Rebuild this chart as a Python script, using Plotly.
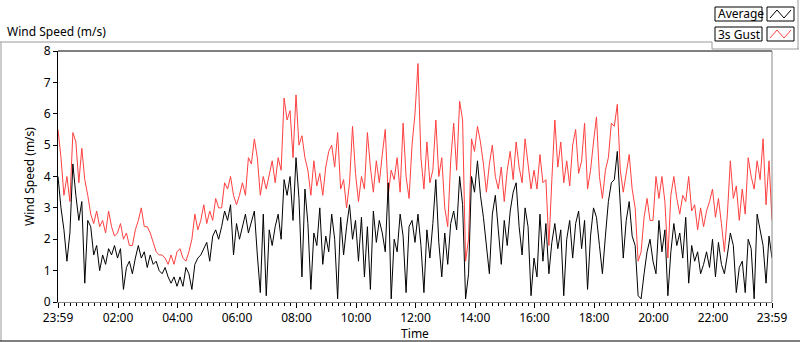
import plotly.graph_objects as go

# ---- data (6-minute samples) ----
step_hours = 0.1
gust = [5.5, 4.6, 3.4, 4.0, 3.2, 5.4, 5.1, 3.8, 4.9, 3.9, 3.4, 2.8, 2.5, 2.9, 2.4, 2.6, 2.2, 2.9, 2.4, 2.1,
        2.2, 2.5, 2.0, 2.2, 1.8, 1.8, 2.3, 2.6, 3.0, 2.4, 2.4, 2.2, 1.9, 1.6, 1.5, 1.5, 1.4, 1.2, 1.5, 1.2,
        1.6, 1.7, 1.4, 1.3, 1.6, 2.0, 2.8, 2.3, 2.6, 3.1, 2.5, 2.9, 2.6, 3.3, 3.0, 3.0, 3.8, 3.6, 4.0, 3.4,
        3.1, 3.4, 3.8, 3.4, 4.6, 4.4, 5.2, 4.6, 3.4, 4.0, 3.6, 4.1, 4.5, 3.8, 4.6, 4.2, 6.5, 5.8, 6.1, 4.6,
        6.6, 5.0, 5.3, 4.6, 4.2, 3.4, 4.5, 3.7, 4.1, 3.4, 4.3, 4.8, 5.0, 4.3, 5.4, 3.6, 3.9, 3.0, 3.8, 5.6,
        4.1, 3.2, 4.0, 3.6, 5.4, 4.3, 3.5, 4.5, 3.8, 4.7, 5.5, 3.4, 4.2, 3.9, 4.6, 3.5, 5.7, 4.0, 3.3, 5.0,
        6.0, 7.6, 4.6, 3.6, 5.1, 3.8, 4.2, 5.8, 4.0, 4.6, 3.0, 2.4, 4.5, 5.7, 4.2, 6.4, 5.8, 1.3, 2.0, 5.2,
        4.8, 5.6, 5.1, 4.4, 3.5, 4.4, 5.0, 4.0, 3.6, 4.3, 3.2, 4.2, 4.8, 3.9, 5.1, 4.3, 3.8, 5.2, 4.4, 3.6,
        4.2, 3.6, 4.7, 3.8, 3.9, 1.8, 3.9, 5.8, 4.3, 5.1, 3.8, 4.5, 3.7, 5.0, 5.5, 4.1, 4.5, 5.7, 3.6, 4.2,
        5.1, 5.9, 4.0, 3.3, 4.2, 4.6, 5.7, 5.6, 6.3, 4.2, 3.5, 4.1, 4.7, 3.6, 3.0, 1.3, 1.6, 2.7, 3.3, 2.6,
        2.6, 4.0, 3.3, 4.0, 3.2, 1.4, 3.4, 4.0, 3.3, 2.8, 3.4, 3.2, 4.0, 2.9, 3.1, 2.3, 3.0, 2.4, 2.9, 3.2,
        3.6, 2.7, 3.3, 2.5, 1.6, 2.8, 4.5, 3.3, 3.7, 2.6, 3.6, 2.8, 4.6, 4.0, 3.6, 4.5, 3.9, 5.2, 3.1, 4.5,
        2.6]
average = [4.0, 3.0, 2.3, 1.3, 2.2, 4.4, 3.4, 2.6, 3.2, 0.6, 2.6, 2.4, 1.5, 1.8, 1.0, 1.5, 1.2, 1.7, 1.5, 1.8,
           1.4, 1.7, 0.4, 1.1, 1.3, 0.9, 1.4, 1.8, 1.4, 1.6, 1.1, 1.5, 1.2, 1.3, 1.0, 0.9, 1.1, 0.8, 0.6, 0.8,
           0.5, 0.8, 0.5, 1.1, 0.9, 0.4, 1.2, 1.4, 1.5, 1.7, 1.9, 1.3, 2.1, 2.3, 2.0, 2.4, 2.9, 2.6, 3.1, 1.5,
           2.5, 2.0, 2.4, 2.8, 2.2, 2.6, 2.9, 1.5, 0.3, 2.8, 0.2, 2.3, 1.8, 2.4, 2.8, 2.0, 3.9, 3.4, 4.0, 2.6,
           4.6, 3.3, 0.8, 3.6, 2.5, 0.4, 2.2, 1.8, 3.0, 1.2, 2.1, 1.6, 2.8, 2.0, 0.1, 2.7, 1.5, 2.4, 3.1, 2.0,
           2.6, 1.3, 2.7, 0.8, 2.4, 0.4, 2.9, 1.9, 2.6, 2.2, 1.6, 3.8, 0.1, 2.0, 1.6, 2.8, 2.1, 0.3, 2.4, 2.6,
           1.9, 2.8, 1.8, 0.3, 2.3, 1.4, 2.5, 3.9, 1.9, 0.8, 2.2, 1.2, 2.5, 2.9, 2.3, 4.0, 3.1, 0.1, 0.9, 4.0,
           3.5, 4.5, 3.4, 2.7, 1.9, 0.9, 2.8, 3.4, 2.3, 1.2, 2.6, 1.8, 2.9, 3.5, 3.8, 2.4, 1.5, 3.0, 2.4, 0.2,
           1.4, 0.8, 2.8, 1.3, 2.5, 0.9, 1.9, 2.5, 1.7, 2.3, 0.2, 2.0, 2.6, 1.4, 2.5, 2.9, 1.7, 2.6, 0.4, 2.1,
           3.0, 2.7, 1.8, 0.9, 2.1, 3.2, 3.8, 3.9, 4.8, 3.0, 1.4, 2.6, 3.2, 2.1, 1.8, 0.2, 0.1, 0.9, 1.6, 2.0,
           1.3, 0.9, 2.6, 1.6, 2.3, 0.2, 1.6, 2.5, 1.8, 2.2, 1.4, 2.7, 0.6, 1.8, 1.3, 1.6, 0.9, 1.2, 1.6, 1.1,
           2.0, 0.8, 1.9, 1.2, 0.9, 1.5, 2.2, 1.8, 0.3, 1.1, 1.3, 0.3, 2.0, 1.7, 0.1, 2.8, 2.3, 1.8, 0.6, 2.1,
           1.4]
tick_labels = ["23:59", "02:00", "04:00", "06:00", "08:00", "10:00", "12:00",
               "14:00", "16:00", "18:00", "20:00", "22:00", "23:59"]
tick_hours = [-1/60, 2, 4, 6, 8, 10, 12, 14, 16, 18, 20, 22, 24 - 1/60]

start = -1/60
x = [start + i * step_hours for i in range(len(gust))]

W, H = 800, 342
ML, MR, MT, MB = 58, 28, 51, 40
PW, PH = W - ML - MR, H - MT - MB
FONT = "Noto Sans"


def px(xp):
    return (xp - ML) / PW


def py(yp):
    return (H - MB - yp) / PH


fig = go.Figure()
fig.add_trace(go.Scatter(x=x, y=gust, mode="lines", name="3s Gust",
                         line=dict(color="#ff4040", width=1), showlegend=False))
fig.add_trace(go.Scatter(x=x, y=average, mode="lines", name="Average",
                         line=dict(color="#000000", width=1), showlegend=False))

fig.update_layout(
    width=W, height=H,
    margin=dict(l=ML, r=MR, t=MT, b=MB, pad=0),
    paper_bgcolor="white", plot_bgcolor="white",
    font=dict(family=FONT, size=12, color="#000"),
    xaxis=dict(range=[-1/60, 24 - 1/60], tickvals=tick_hours, ticktext=tick_labels,
               ticks="outside", ticklen=5, tickcolor="#000", tickwidth=1,
               minor=dict(dtick=0.2, tick0=0, ticks="outside", ticklen=3, tickcolor="#000"),
               showgrid=False, zeroline=False, showline=True, linecolor="#888", linewidth=1,
               title=dict(text="Time", standoff=0, font=dict(size=12)),
               tickfont=dict(size=12), automargin=False),
    yaxis=dict(range=[0, 8], dtick=1, ticks="outside", ticklen=4, tickcolor="#000",
               showgrid=False, zeroline=False, showline=True, linecolor="#000", linewidth=1,
               title=dict(text="Wind Speed (m/s)", standoff=6, font=dict(size=12)),
               tickfont=dict(size=12), automargin=False),
)

shapes = []
# plot frame: top black, right grey
shapes.append(dict(type="line", xref="paper", yref="paper", x0=0, x1=1, y0=1, y1=1,
                   line=dict(color="#000", width=1)))
shapes.append(dict(type="line", xref="paper", yref="paper", x0=1, x1=1, y0=0, y1=1,
                   line=dict(color="#888", width=1)))
# outer panel lines
shapes.append(dict(type="line", xref="paper", yref="paper", x0=px(0), x1=px(712), y0=py(42), y1=py(42),
                   line=dict(color="#999", width=1)))
shapes.append(dict(type="line", xref="paper", yref="paper", x0=px(1), x1=px(1), y0=py(42), y1=py(341),
                   line=dict(color="#999", width=1)))
shapes.append(dict(type="line", xref="paper", yref="paper", x0=px(0), x1=px(800), y0=py(341), y1=py(341),
                   line=dict(color="#000", width=1)))
# legend panel border
shapes.append(dict(type="line", xref="paper", yref="paper", x0=px(712), x1=px(712), y0=py(42), y1=py(49),
                   line=dict(color="#999", width=1)))
shapes.append(dict(type="line", xref="paper", yref="paper", x0=px(712), x1=px(799), y0=py(49), y1=py(49),
                   line=dict(color="#999", width=1)))
shapes.append(dict(type="line", xref="paper", yref="paper", x0=px(798), x1=px(798), y0=py(0), y1=py(49),
                   line=dict(color="#999", width=1)))
# legend boxes
for (y0, y1, col) in [(7, 21, "#000"), (27, 41, "#ff4040")]:
    shapes.append(dict(type="rect", xref="paper", yref="paper", x0=px(715), x1=px(762), y0=py(y1), y1=py(y0),
                       line=dict(color="#000", width=1), fillcolor="white"))
    shapes.append(dict(type="rect", xref="paper", yref="paper", x0=px(767), x1=px(794), y0=py(y1), y1=py(y0),
                       line=dict(color="#000", width=1), fillcolor="white"))
    pts = [(770, y1 - 3), (777, y0 + 3), (784, y1 - 3), (791, y0 + 3)]
    path = "M " + " L ".join(f"{px(a)},{py(b)}" for a, b in pts)
    shapes.append(dict(type="path", xref="paper", yref="paper", path=path,
                       line=dict(color=col, width=1)))
fig.update_layout(shapes=shapes)

annotations = [
    dict(text="Wind Speed (m/s)", xref="paper", yref="paper", x=px(5), y=py(31),
         xanchor="left", yanchor="middle", showarrow=False, font=dict(size=12)),
    dict(text="Average", xref="paper", yref="paper", x=px(716), y=py(14),
         xanchor="left", yanchor="middle", showarrow=False, font=dict(size=12)),
    dict(text="3s Gust", xref="paper", yref="paper", x=px(716), y=py(34),
         xanchor="left", yanchor="middle", showarrow=False, font=dict(size=12)),
]
fig.update_layout(annotations=annotations)

fig.write_html("out.html", config={"displayModeBar": False},
               post_script="document.body.style.margin='0';document.body.style.overflow='hidden';")
